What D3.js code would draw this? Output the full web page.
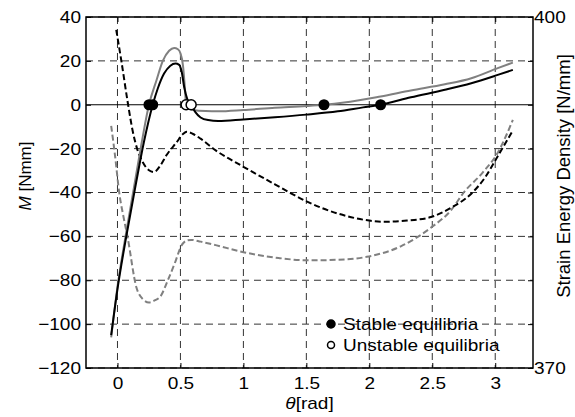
<!DOCTYPE html>
<html>
<head>
<meta charset="utf-8">
<script src="https://cdn.jsdelivr.net/npm/d3@7"></script>
<style>
    body { margin: 0; background: #fff; }
    svg { font-family: "Liberation Sans", Arial, sans-serif; }
</style>
</head>
<body>
<svg id="chart" width="575" height="417"></svg>
<script>
// moment curves [theta, M]
const momentBlack = [
    [-0.05, -105], [0, -84], [0.07, -60], [0.14, -38], [0.21, -17], [0.28, 0],
    [0.32, 7.4], [0.37, 14.2], [0.42, 17.8], [0.46, 18.8], [0.49, 18.2], [0.51, 15],
    [0.53, 8], [0.555, 2.5], [0.585, 0], [0.62, -3.5], [0.66, -5.8], [0.72, -7],
    [0.8, -7.4], [1.0, -6.7], [1.25, -5.7], [1.5, -4.5], [1.75, -3.0], [1.95, -1.2],
    [2.09, 0], [2.33, 3.4], [2.6, 6.8], [2.81, 9.8], [3.02, 13.6], [3.14, 15.9]
];
const momentGray = [
    [-0.05, -106], [0, -83], [0.07, -58], [0.13, -38], [0.19, -18], [0.25, 0],
    [0.31, 11.2], [0.36, 20], [0.41, 24.6], [0.45, 25.9], [0.48, 25.3], [0.5, 23.5],
    [0.52, 18], [0.535, 8], [0.545, 0], [0.56, -1.5], [0.6, -2.4], [0.7, -2.9],
    [0.8, -3], [1.0, -2.4], [1.25, -1.4], [1.5, -0.6], [1.64, 0], [1.8, 1],
    [2.09, 3.8], [2.33, 6.5], [2.6, 9.3], [2.81, 12.1], [3.02, 16.7], [3.14, 19.2]
];

// strain energy density curves [theta, U]
const energyBlack = [
    [-0.01, 398.9], [0.03, 396.3], [0.08, 392.8], [0.12, 390.3], [0.16, 388.6],
    [0.2, 387.6], [0.25, 386.9], [0.29, 386.75], [0.34, 387.3], [0.39, 388.2],
    [0.47, 389.3], [0.52, 390.0], [0.55, 390.2], [0.6, 390.0], [0.66, 389.6],
    [0.78, 388.6], [1.0, 387.2], [1.25, 385.7], [1.51, 384.2], [1.75, 383.2],
    [2.0, 382.6], [2.1, 382.5], [2.3, 382.6], [2.49, 382.9], [2.65, 383.7],
    [2.81, 384.9], [2.92, 386.3], [3.02, 388.1], [3.14, 390.3]
];
const energyGray = [
    [-0.05, 390.7], [-0.02, 388.2], [0.015, 384.9], [0.05, 382.8], [0.08, 381.2],
    [0.15, 376.9], [0.2, 375.9], [0.25, 375.6], [0.3, 375.8], [0.34, 376.1],
    [0.4, 377.5], [0.46, 379.1], [0.505, 380.4], [0.55, 380.9], [0.585, 380.95],
    [0.66, 380.8], [0.78, 380.5], [1.0, 379.9], [1.28, 379.4], [1.51, 379.2],
    [1.75, 379.25], [1.98, 379.5], [2.25, 380.4], [2.49, 382.0], [2.65, 383.5],
    [2.75, 385.0], [2.9, 386.7], [3.02, 388.4], [3.14, 391.2]
];

const stableTheta = [0.25, 0.28, 1.64, 2.09];
const unstableTheta = [0.545, 0.585];

const xTicks = [0, 0.5, 1, 1.5, 2, 2.5, 3];
const mTicks = [-120, -100, -80, -60, -40, -20, 0, 20, 40];
const eTicks = [370, 400];
const legendLabels = ['Stable equilibria', 'Unstable equilibria'];

const width = 575, height = 417;
const margin = {left: 86, top: 17, right: 42, bottom: 49};
const w = width - margin.left - margin.right,
    h = height - margin.top - margin.bottom;
const sx = 1.12; // glyphs in the reference are a bit wider than Arial

const svg = d3.select('#chart');
const g = svg.append('g')
    .attr('transform', `translate(${margin.left},${margin.top})`);

const x = d3.scaleLinear().domain([-0.25, 3.3]).range([0, w]);
const yM = d3.scaleLinear().domain([-120, 40]).range([h, 0]);
const yE = d3.scaleLinear().domain([370, 400]).range([h, 0]);

function stretch(sel) {
    sel.each(function() {
        const t = d3.select(this);
        const x0 = +t.attr('x') || 0;
        t.attr('x', x0 / sx).attr('transform', `scale(${sx},1)`);
    });
}

//grid
g.append('g').selectAll('line')
    .data(xTicks)
    .enter().append('line')
    .attr('x1', d => x(d)).attr('x2', d => x(d))
    .attr('y1', 0).attr('y2', h)
    .attr('stroke', '#333').attr('stroke-width', 1)
    .attr('stroke-dasharray', '7,5');
g.append('g').selectAll('line')
    .data(mTicks.filter(d => d !== 0))
    .enter().append('line')
    .attr('x1', 0).attr('x2', w)
    .attr('y1', d => yM(d)).attr('y2', d => yM(d))
    .attr('stroke', '#333').attr('stroke-width', 1)
    .attr('stroke-dasharray', '7,5');

//zero line
g.append('line')
    .attr('x1', 0).attr('x2', w)
    .attr('y1', yM(0)).attr('y2', yM(0))
    .attr('stroke', '#000').attr('stroke-width', 1);

//energy curves
const lineE = d3.line()
    .x(d => x(d[0])).y(d => yE(d[1]))
    .curve(d3.curveMonotoneX);
g.append('path').datum(energyGray)
    .attr('d', lineE).attr('fill', 'none')
    .attr('stroke', '#808080').attr('stroke-width', 2)
    .attr('stroke-dasharray', '6,3');
g.append('path').datum(energyBlack)
    .attr('d', lineE).attr('fill', 'none')
    .attr('stroke', '#000').attr('stroke-width', 2)
    .attr('stroke-dasharray', '6,3');

//moment curves
const lineM = d3.line()
    .x(d => x(d[0])).y(d => yM(d[1]))
    .curve(d3.curveMonotoneX);
g.append('path').datum(momentGray)
    .attr('d', lineM).attr('fill', 'none')
    .attr('stroke', '#808080').attr('stroke-width', 2);
g.append('path').datum(momentBlack)
    .attr('d', lineM).attr('fill', 'none')
    .attr('stroke', '#000').attr('stroke-width', 2);

//equilibria
g.append('g').selectAll('circle')
    .data(stableTheta)
    .enter().append('circle')
    .attr('cx', d => x(d)).attr('cy', yM(0)).attr('r', 5.5)
    .attr('fill', '#000');
g.append('g').selectAll('circle')
    .data(unstableTheta)
    .enter().append('circle')
    .attr('cx', d => x(d)).attr('cy', yM(0)).attr('r', 5)
    .attr('fill', '#fff').attr('stroke', '#000').attr('stroke-width', 1.5);

//axes
const fontSize = '17px';
const xAxis = g.append('g')
    .attr('transform', `translate(0,${h})`)
    .call(d3.axisBottom(x).tickValues(xTicks).tickSizeInner(-5).tickSizeOuter(0)
        .tickPadding(9).tickFormat(d3.format('')));
g.append('g')
    .call(d3.axisTop(x).tickValues(xTicks).tickSizeInner(-5).tickSizeOuter(0)
        .tickFormat(''));
const mAxis = g.append('g')
    .call(d3.axisLeft(yM).tickValues(mTicks).tickSizeInner(-5).tickSizeOuter(0)
        .tickPadding(5));
g.append('g')
    .attr('transform', `translate(${w},0)`)
    .call(d3.axisRight(yM).tickValues(mTicks).tickSizeInner(-5).tickSizeOuter(0)
        .tickFormat(''));
const eAxis = g.append('g')
    .attr('transform', `translate(${w},0)`)
    .call(d3.axisRight(yE).tickValues(eTicks).tickSize(0).tickPadding(1));

g.selectAll('.domain').remove();
g.selectAll('.tick line').attr('stroke', '#000').attr('stroke-width', 1);
g.selectAll('.tick text')
    .attr('font-family', null)
    .style('font-size', fontSize).attr('fill', '#000');
stretch(xAxis.selectAll('.tick text'));
stretch(mAxis.selectAll('.tick text'));
stretch(eAxis.selectAll('.tick text'));

//box
g.append('rect')
    .attr('width', w).attr('height', h)
    .attr('fill', 'none').attr('stroke', '#000').attr('stroke-width', 1.5);

//axis labels
const xl = svg.append('text')
    .attr('transform', `translate(${margin.left + w / 2},409) scale(${sx},1)`)
    .attr('text-anchor', 'middle')
    .style('font-size', fontSize);
xl.append('tspan').attr('font-style', 'italic').text('\u03b8');
xl.append('tspan').text('[rad]');

const yl = svg.append('text')
    .attr('transform', `translate(31,176) rotate(-90)`)
    .attr('text-anchor', 'middle')
    .style('font-size', fontSize);
yl.append('tspan').attr('font-style', 'italic').text('M');
yl.append('tspan').text(' [Nmm]');

svg.append('text')
    .attr('transform', `translate(570,176) rotate(-90)`)
    .attr('text-anchor', 'middle')
    .style('font-size', '18.5px')
    .text('Strain Energy Density [N/mm]');

//legend
const legend = svg.append('g').attr('transform', 'translate(331,324)');
const items = legend.selectAll('g')
    .data(legendLabels)
    .enter().append('g')
    .attr('transform', (d, i) => `translate(0,${i * 21})`);
items.append('circle')
    .attr('r', (d, i) => i === 0 ? 4 : 3.5)
    .attr('fill', (d, i) => i === 0 ? '#000' : '#fff')
    .attr('stroke', '#000').attr('stroke-width', 1.5);
items.append('text')
    .attr('x', 12 / sx).attr('dy', '0.35em')
    .attr('transform', `scale(${sx},1)`)
    .style('font-size', fontSize)
    .text(d => d);
</script>
</body>
</html>
